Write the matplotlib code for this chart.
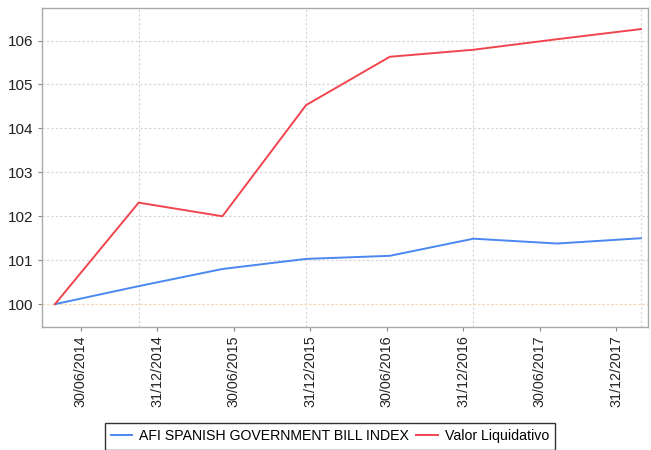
import matplotlib
matplotlib.use("Agg")
import matplotlib.pyplot as plt
import numpy as np

plt.rcParams['font.family'] = ['Liberation Sans', 'DejaVu Sans']

# Data
afi_index = [100.0, 100.41, 100.8, 101.03, 101.1, 101.49, 101.38, 101.5]
valor_liquidativo = [100.0, 102.31, 102.0, 104.53, 105.63, 105.79, 106.03, 106.26]
tick_labels = ["30/06/2014", "31/12/2014", "30/06/2015", "31/12/2015",
               "30/06/2016", "31/12/2016", "30/06/2017", "31/12/2017"]
series_names = ["AFI SPANISH GOVERNMENT BILL INDEX", "Valor Liquidativo"]

x = np.arange(len(afi_index))

fig = plt.figure(figsize=(6.51, 4.5), dpi=100)
ax = fig.add_axes([42/651, 1 - 327/450, 606/651, 319/450])

blue = '#4a88f0'
red = '#f0454f'

# Grid lines
for yv in range(100, 107):
    ax.axhline(yv, color='#d4d4d4', lw=0.8, ls=(0, (2, 2)), zorder=0)
for xv in x[1::2]:
    ax.axvline(xv, color='#d4d4d4', lw=0.8, ls=(0, (2, 2)), zorder=0)
ax.axhline(100, color='#f5d9a8', lw=0.8, ls=(0, (2, 2)), zorder=0.5)

l1, = ax.plot(x, afi_index, color=blue, lw=1.4, label=series_names[0])
l2, = ax.plot(x, valor_liquidativo, color=red, lw=1.4, label=series_names[1])

ax.set_xlim(-0.155, 7.085)
ax.set_ylim(99.48, 106.74)

tick_pos = 0.307 + 0.914 * np.arange(len(tick_labels))
ax.set_xticks(tick_pos)
ax.set_xticklabels(tick_labels, rotation=90, fontsize=10.3, color='#222222')
ax.set_yticks(range(100, 107))
ax.set_yticklabels([str(v) for v in range(100, 107)], fontsize=11, color='#222222')
ax.tick_params(axis='both', direction='out', length=3, width=0.8, color='#888888', pad=3)

for s in ax.spines.values():
    s.set_color('#aaaaaa')
    s.set_linewidth(1.0)

leg = fig.legend(handles=[l1, l2], loc='upper center', bbox_to_anchor=(0.507, 1 - 423/450),
                 ncol=2, fontsize=10.2, frameon=True, fancybox=False, handlelength=1.5,
                 handletextpad=0.5, columnspacing=0.5, borderpad=0.45, borderaxespad=0)
leg.get_frame().set_edgecolor('#000000')
leg.get_frame().set_linewidth(1.0)

fig.savefig('out.png', dpi=100)
